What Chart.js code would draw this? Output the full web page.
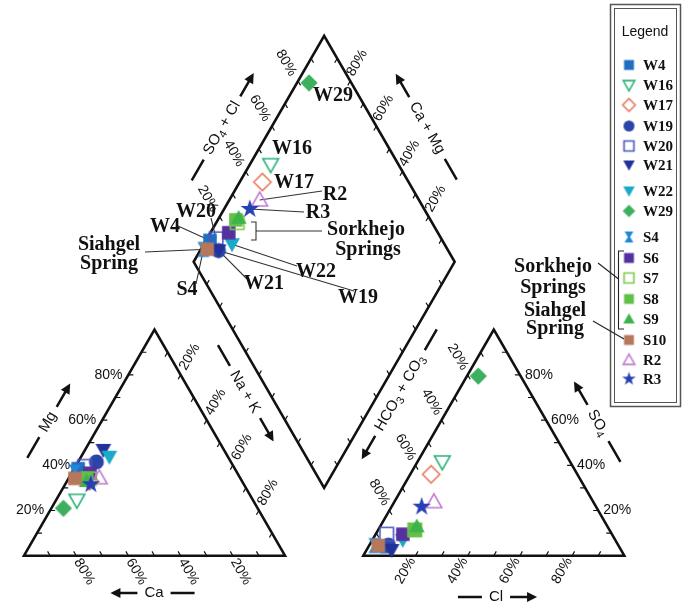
<!DOCTYPE html>
<html lang="en">
<head>
<meta charset="UTF-8">
<title>Piper diagram</title>
<script src="https://cdn.jsdelivr.net/npm/chart.js"></script>
<style>
  html, body { margin: 0; padding: 0; background: #fff; }
  .chartBox { width: 688px; height: 606px; }
</style>
</head>
<body>
<div class="chartBox"><canvas id="chart" width="688" height="606"></canvas></div>
<script>
// samples (meq %)
const samples = ['W4', 'W16', 'W17', 'W19', 'W20', 'W21', 'W22', 'W29', 'S4', 'S6', 'S7', 'S8', 'S9', 'S10', 'R2', 'R3'];
const caPct   = [60.0, 67.5, 58.3, 51.5, 57.0, 46.2, 45.4, 74.4, 62.0, 56.5, 58.0, 58.9, 59.5, 63.4, 53.9, 58.6];
const mgPct   = [38.5, 24.5, 33.0, 41.5, 39.5, 46.8, 43.8, 21.0, 37.0, 36.5, 34.0, 34.2, 33.0, 34.2, 34.5, 31.6];
const nakPct  = [ 1.5,  8.0,  8.7,  7.0,  3.5,  7.0, 10.8,  4.6,  1.0,  7.0,  8.0,  6.9,  7.5,  2.4, 11.6,  9.8];
const hco3Pct = [89.0, 49.0, 56.0, 88.0, 86.3, 87.9, 81.4, 16.2, 93.5, 80.1, 74.6, 74.5, 73.0, 92.0, 61.0, 66.8];
const so4Pct  = [ 4.0, 41.5, 36.0,  4.7,  9.5,  2.5,  7.0, 79.5,  4.5,  9.5, 11.4, 11.4, 13.0,  4.5, 23.9, 21.7];
const clPct   = [ 7.0,  9.5,  8.0,  7.3,  4.2,  9.6, 11.6,  4.3,  2.0, 10.4, 14.0, 14.1, 14.0,  3.5, 15.1, 11.5];
const tickLabels = ['20%', '40%', '60%', '80%'];

const markers = [
  { shape: 'square',    fill: '#1f6fc0' },   // W4
  { shape: 'tridown',   stroke: '#2bb37a' }, // W16
  { shape: 'diamond',   stroke: '#e87a62' }, // W17
  { shape: 'circle',    fill: '#2a45a8' },   // W19
  { shape: 'square',    stroke: '#4a55c0' }, // W20
  { shape: 'tridown',   fill: '#23329a' },   // W21
  { shape: 'tridown',   fill: '#1aaac8' },   // W22
  { shape: 'diamond',   fill: '#3db060' },   // W29
  { shape: 'hourglass', fill: '#1e88d8' },   // S4
  { shape: 'square',    fill: '#55309e' },   // S6
  { shape: 'square',    stroke: '#7cc84a' }, // S7
  { shape: 'square',    fill: '#62c04a' },   // S8
  { shape: 'triangle',  fill: '#3eb34a' },   // S9
  { shape: 'square',    fill: '#b5785a' },   // S10
  { shape: 'triangle',  stroke: '#c27ad2' }, // R2
  { shape: 'star',      fill: '#2540b0' }    // R3
];

const H = Math.sqrt(3) / 2;
const GAP = 0.3;

function cationPt(ca, mg, nak) { return { x: nak / 100 + mg / 200, y: mg / 100 * H }; }
function anionPt(hco3, so4, cl) { return { x: 1 + GAP + cl / 100 + so4 / 200, y: so4 / 100 * H }; }
function diamondPt(ca, mg, so4, cl) {
  const c = (ca + mg) / 100, a = (so4 + cl) / 100;
  return { x: 1 + GAP / 2 + (a - c) / 2, y: GAP * H + (a + c) * H };
}

function makeMarker(m, s) {
  const size = Math.ceil(s * 2.6 + 4);
  const cv = document.createElement('canvas');
  cv.width = cv.height = size;
  const g = cv.getContext('2d');
  g.translate(size / 2, size / 2);
  g.beginPath();
  if (m.shape === 'square') {
    g.rect(-s * 0.9, -s * 0.9, s * 1.8, s * 1.8);
  } else if (m.shape === 'circle') {
    g.arc(0, 0, s, 0, Math.PI * 2);
  } else if (m.shape === 'triangle' || m.shape === 'tridown') {
    const k = m.shape === 'triangle' ? 1 : -1;
    g.moveTo(0, -s * 1.05 * k);
    g.lineTo(s * 1.05, s * 0.8 * k);
    g.lineTo(-s * 1.05, s * 0.8 * k);
    g.closePath();
  } else if (m.shape === 'diamond') {
    const r = s * 1.15;
    g.moveTo(0, -r); g.lineTo(r, 0); g.lineTo(0, r); g.lineTo(-r, 0); g.closePath();
  } else if (m.shape === 'hourglass') {
    g.moveTo(-s * 0.8, -s); g.lineTo(s * 0.8, -s); g.lineTo(s * 0.2, 0);
    g.lineTo(s * 0.8, s); g.lineTo(-s * 0.8, s); g.lineTo(-s * 0.2, 0); g.closePath();
  } else if (m.shape === 'star') {
    for (let i = 0; i < 10; i++) {
      const r = i % 2 ? s * 0.5 : s * 1.3;
      const a = -Math.PI / 2 + i * Math.PI / 5;
      if (i === 0) g.moveTo(r * Math.cos(a), r * Math.sin(a)); else g.lineTo(r * Math.cos(a), r * Math.sin(a));
    }
    g.closePath();
  }
  if (m.fill) { g.fillStyle = m.fill; g.fill(); }
  else { g.strokeStyle = m.stroke; g.lineWidth = 1.6; g.stroke(); }
  return cv;
}

const plotMarkers = markers.map(m => makeMarker(m, 7.5));
const legendMarkers = markers.map(m => makeMarker(m, 5.5));

const datasets = samples.map((name, i) => ({
  label: name,
  data: [
    cationPt(caPct[i], mgPct[i], nakPct[i]),
    anionPt(hco3Pct[i], so4Pct[i], clPct[i]),
    diamondPt(caPct[i], mgPct[i], so4Pct[i], clPct[i])
  ],
  pointStyle: plotMarkers[i],
  pointRadius: 7,
  pointHoverRadius: 7,
  showLine: false,
  order: samples.length - i,
  clip: false
}));

const SERIF = '"Liberation Serif", "Times New Roman", serif';
const SANS = '"Liberation Sans", Arial, sans-serif';

function richText(ctx, parts, x, y, angle, size) {
  ctx.save();
  ctx.translate(x, y);
  ctx.rotate(angle * Math.PI / 180);
  const main = size + 'px ' + SANS, sub = Math.round(size * 0.7) + 'px ' + SANS;
  let w = 0;
  parts.forEach(([t, s]) => { ctx.font = s ? sub : main; w += ctx.measureText(t).width; });
  let cx = -w / 2;
  ctx.textBaseline = 'middle';
  ctx.textAlign = 'left';
  ctx.fillStyle = '#111';
  parts.forEach(([t, s]) => {
    ctx.font = s ? sub : main;
    ctx.fillText(t, cx, s ? size * 0.3 : 0);
    cx += ctx.measureText(t).width;
  });
  ctx.restore();
  return w;
}

function axisTitle(ctx, parts, x, y, angle, arrowLeft) {
  const w = richText(ctx, parts, x, y, angle, 15);
  ctx.save();
  ctx.translate(x, y);
  ctx.rotate(angle * Math.PI / 180);
  ctx.strokeStyle = '#111';
  ctx.fillStyle = '#111';
  ctx.lineWidth = 2.5;
  const half = w / 2, gap = 7, len = 24;
  ctx.beginPath();
  ctx.moveTo(-half - gap, 0); ctx.lineTo(-half - gap - len, 0);
  ctx.moveTo(half + gap, 0); ctx.lineTo(half + gap + len, 0);
  ctx.stroke();
  const tip = arrowLeft ? -half - gap - len - 3 : half + gap + len + 3;
  const dir = arrowLeft ? 1 : -1;
  ctx.beginPath();
  ctx.moveTo(tip, 0);
  ctx.lineTo(tip + dir * 10, -5);
  ctx.lineTo(tip + dir * 10, 5);
  ctx.closePath();
  ctx.fill();
  ctx.restore();
}

function tickLabel(ctx, text, x, y, angle, align) {
  ctx.save();
  ctx.translate(x, y);
  ctx.rotate(angle * Math.PI / 180);
  ctx.font = '14px ' + SANS;
  ctx.fillStyle = '#111';
  ctx.textAlign = align || 'center';
  ctx.textBaseline = 'middle';
  ctx.fillText(text, 0, 0);
  ctx.restore();
}

const framePlugin = {
  id: 'piperFrame',
  beforeDatasetsDraw(chart) {
    const ctx = chart.ctx, xs = chart.scales.x, ys = chart.scales.y;
    const P = (u, v) => [xs.getPixelForValue(u), ys.getPixelForValue(v)];
    const unitPx = xs.getPixelForValue(1) - xs.getPixelForValue(0);
    const tickLen = 5 / unitPx;

    const L0 = [0, 0], L1 = [1, 0], L2 = [0.5, H];
    const R0 = [1 + GAP, 0], R1 = [2 + GAP, 0], R2 = [1.5 + GAP, H];
    const DB = [1 + GAP / 2, GAP * H], DL = [0.5 + GAP / 2, GAP * H + H];
    const DR = [1.5 + GAP / 2, GAP * H + H], DT = [1 + GAP / 2, GAP * H + 2 * H];

    ctx.save();
    ctx.strokeStyle = '#111';
    ctx.lineWidth = 2.6;
    ctx.lineJoin = 'miter';
    [[L0, L1, L2], [R0, R1, R2], [DB, DR, DT, DL]].forEach(poly => {
      ctx.beginPath();
      poly.forEach((p, i) => { const q = P(p[0], p[1]); i ? ctx.lineTo(q[0], q[1]) : ctx.moveTo(q[0], q[1]); });
      ctx.closePath();
      ctx.stroke();
    });

    // ticks every 10%
    const edges = [
      [L0, L1, [-0.5, H]], [L0, L2, [1, 0]], [L1, L2, [-0.5, -H]],
      [R0, R1, [0.5, H]], [R0, R2, [0.5, -H]], [R1, R2, [-1, 0]],
      [DL, DT, [0.5, -H]], [DR, DT, [-0.5, -H]], [DL, DB, [0.5, H]], [DB, DR, [-0.5, H]]
    ];
    ctx.lineWidth = 1.2;
    ctx.beginPath();
    edges.forEach(([a, b, d]) => {
      for (let k = 1; k < 10; k++) {
        const t = k / 10;
        const u = a[0] + (b[0] - a[0]) * t, v = a[1] + (b[1] - a[1]) * t;
        const p = P(u, v), q = P(u + d[0] * tickLen, v + d[1] * tickLen);
        ctx.moveTo(p[0], p[1]); ctx.lineTo(q[0], q[1]);
      }
    });
    ctx.stroke();

    // tick labels
    tickLabels.forEach((lab, i) => {
      const t = (i + 1) / 5;
      let p;
      p = P(t / 2, t * H); tickLabel(ctx, lab, p[0] - 6, p[1], 0, 'right');           // Mg
      p = P(1 - t, 0); tickLabel(ctx, lab, p[0] + 8, p[1] + 16, 60);                   // Ca
      p = P(t + (1 - t) / 2, (1 - t) * H); tickLabel(ctx, lab, p[0] + 9, p[1] - 18, -60); // Na+K
      p = P(1 + GAP + (1 - t) / 2, (1 - t) * H); tickLabel(ctx, lab, p[0] - 10, p[1] - 18, 60); // HCO3
      p = P(1 + GAP + t, 0); tickLabel(ctx, lab, p[0] - 10, p[1] + 15, -60);            // Cl
      p = P(2 + GAP - t / 2, t * H); tickLabel(ctx, lab, p[0] + 5, p[1], 0, 'left');    // SO4
      p = P(DL[0] + t / 2, DL[1] + t * H); tickLabel(ctx, lab, p[0] - 12, p[1] - 18, 60); // SO4+Cl
      p = P(DR[0] - t / 2, DR[1] + t * H); tickLabel(ctx, lab, p[0] + 7, p[1] - 18, -60); // Ca+Mg
    });

    // axis titles
    axisTitle(ctx, [['Mg', 0]], 48, 422, -60, false);
    axisTitle(ctx, [['Ca', 0]], 154, 593, 0, true);
    axisTitle(ctx, [['Na + K', 0]], 245, 392, 60, false);
    axisTitle(ctx, [['SO', 0], ['4', 1], [' + Cl', 0]], 222, 128, -60, false);
    axisTitle(ctx, [['Ca + Mg', 0]], 427, 128, 60, true);
    axisTitle(ctx, [['HCO', 0], ['3', 1], [' + CO', 0], ['3', 1]], 400, 393, -60, true);
    axisTitle(ctx, [['SO', 0], ['4', 1]], 598, 423, 60, true);
    axisTitle(ctx, [['Cl', 0]], 496, 597, 0, false);

    // leader lines to the diamond points
    const leaders = [
      ['R2', 322, 191], ['R3', 304, 212], ['W20', 211, 218], ['W4', 178, 226],
      ['S10', 145, 252], ['S4', 196, 284], ['W21', 247, 279], ['W22', 297, 266], ['W19', 354, 291]
    ];
    ctx.strokeStyle = '#333';
    ctx.lineWidth = 1.1;
    ctx.beginPath();
    leaders.forEach(([name, x, y]) => {
      const el = chart.getDatasetMeta(samples.indexOf(name)).data[2];
      ctx.moveTo(x, y); ctx.lineTo(el.x, el.y);
    });
    // Sorkhejo bracket in the diamond
    ctx.moveTo(251, 222); ctx.lineTo(256, 222); ctx.lineTo(256, 240); ctx.lineTo(251, 240);
    ctx.moveTo(256, 231); ctx.lineTo(322, 231);
    ctx.stroke();
    ctx.restore();
  },
  afterDatasetsDraw(chart) {
    const ctx = chart.ctx;
    ctx.save();
    ctx.fillStyle = '#111';
    ctx.textAlign = 'center';
    ctx.textBaseline = 'middle';
    ctx.font = 'bold 20px ' + SERIF;
    const notes = [
      ['W29', 333, 96], ['W16', 292, 149], ['W17', 294, 183], ['R2', 335, 195], ['R3', 318, 213],
      ['Sorkhejo', 366, 230], ['Springs', 368, 250], ['W20', 196, 212], ['W4', 165, 227],
      ['Siahgel', 109, 245], ['Spring', 109, 264], ['S4', 187, 290], ['W21', 264, 284],
      ['W22', 316, 272], ['W19', 358, 298],
      ['Sorkhejo', 553, 267], ['Springs', 553, 288], ['Siahgel', 555, 311], ['Spring', 555, 329]
    ];
    notes.forEach(([t, x, y]) => ctx.fillText(t, x, y));

    // legend box
    ctx.strokeStyle = '#555';
    ctx.lineWidth = 1.5;
    ctx.strokeRect(610.5, 4.5, 70, 402);
    ctx.lineWidth = 1;
    ctx.strokeRect(614.5, 8.5, 62, 394);
    ctx.font = '14px ' + SANS;
    ctx.fillText('Legend', 645, 32);
    const rows = [65, 85, 105, 126, 146, 165, 191, 211, 237, 258, 278, 299, 319, 340, 360, 379];
    ctx.textAlign = 'left';
    ctx.font = 'bold 15px ' + SERIF;
    samples.forEach((name, i) => {
      const img = legendMarkers[i];
      ctx.drawImage(img, 629 - img.width / 2, rows[i] - img.height / 2);
      ctx.fillText(name, 643, rows[i] + 1);
    });
    ctx.strokeStyle = '#222';
    ctx.lineWidth = 1.1;
    ctx.beginPath();
    ctx.moveTo(624, 251); ctx.lineTo(618.5, 251); ctx.lineTo(618.5, 329); ctx.lineTo(624, 329);
    ctx.moveTo(598, 263); ctx.lineTo(618.5, 279);
    ctx.moveTo(593, 321); ctx.lineTo(624, 339);
    ctx.stroke();
    ctx.restore();
  }
};

new Chart(document.getElementById('chart'), {
  type: 'scatter',
  data: { datasets: datasets },
  options: {
    responsive: false,
    animation: false,
    layout: { padding: 0, autoPadding: false },
    scales: {
      x: { type: 'linear', display: false, min: -24 / 261, max: 664 / 261 },
      y: { type: 'linear', display: false, min: -50.3 / 261, max: 555.7 / 261 }
    },
    plugins: {
      legend: { display: false },
      tooltip: { enabled: false }
    }
  },
  plugins: [framePlugin]
});
</script>
</body>
</html>
